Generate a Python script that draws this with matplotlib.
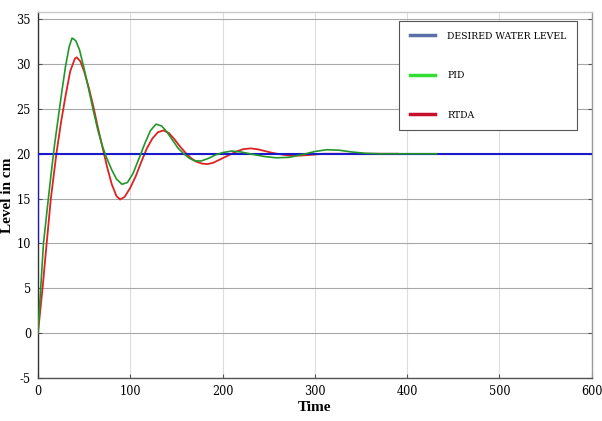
import numpy as np
import matplotlib.pyplot as plt
from matplotlib.lines import Line2D
from matplotlib.font_manager import FontProperties

# Water level response of the tank: set point, PID and RTDA controllers
setpoint_t = [0, 0, 600]
setpoint_level = [10, 20, 20]

pid_t = [0, 3, 6, 10, 14, 18, 22, 26, 30, 34, 37, 41, 45, 50, 55, 60, 65, 70, 75,
         80, 85, 91, 97, 103, 110, 116, 122, 128, 134, 140, 146, 152, 158, 164, 170,
         177, 185, 193, 201, 210, 220, 232, 245, 258, 272, 286, 300, 313, 326, 340,
         355, 370, 400, 432]
pid_level = [0, 5, 10, 13.8, 17.5, 21, 24, 27, 29.8, 32, 32.9, 32.6, 31.6, 29.5,
             27.2, 24.8, 22.6, 20.8, 19.4, 18.2, 17.2, 16.6, 16.8, 17.8, 19.6, 21.2,
             22.6, 23.3, 23.1, 22.4, 21.5, 20.6, 20.0, 19.5, 19.2, 19.2, 19.5, 19.9,
             20.15, 20.3, 20.2, 19.95, 19.7, 19.55, 19.6, 19.9, 20.25, 20.45, 20.4,
             20.2, 20.05, 20.0, 20.0, 20.0]

rtda_t = [0, 5, 9, 14, 20, 25, 30, 35, 40, 42, 46, 50, 55, 60, 65, 70, 75, 80, 85,
          89, 94, 100, 106, 112, 118, 124, 130, 136, 142, 148, 154, 160, 166, 172,
          178, 184, 190, 198, 206, 214, 222, 230, 238, 246, 254, 262, 272, 285, 298,
          310, 330, 390]
rtda_level = [0, 5, 9.5, 15, 20, 23.5, 26.5, 29.2, 30.6, 30.75, 30.3, 29.2, 27.4,
              25.3, 22.9, 20.7, 18.5, 16.6, 15.3, 14.9, 15.2, 16.2, 17.5, 19.1, 20.6,
              21.7, 22.4, 22.6, 22.3, 21.6, 20.8, 20.1, 19.5, 19.1, 18.9, 18.85, 19.0,
              19.4, 19.8, 20.2, 20.5, 20.6, 20.5, 20.3, 20.1, 19.95, 19.8, 19.8, 19.9,
              20.0, 20.0, 20.0]

x_ticks = [0, 100, 200, 300, 400, 500, 600]
y_ticks = [-5, 0, 5, 10, 15, 20, 25, 30, 35]
legend_labels = ['DESIRED WATER LEVEL', 'PID', 'RTDA']

plt.rcParams['font.family'] = 'Liberation Serif'
plt.rcParams['axes.unicode_minus'] = False

tick_font = FontProperties(family='DejaVu Serif', stretch='condensed', size=9)
legend_font = FontProperties(family='DejaVu Serif', stretch='condensed', size=7.5)

fig = plt.figure(figsize=(6.02, 4.21), dpi=100)
ax = fig.add_axes([0.063, 0.102, 0.92, 0.8695])

ax.plot(rtda_t, rtda_level, color='#dd2222', linewidth=1.3, zorder=3)
ax.plot(setpoint_t, setpoint_level, color='#1a1acc', linewidth=1.5, zorder=4)
ax.plot(pid_t, pid_level, color='#22962a', linewidth=1.2, zorder=5)

ax.set_xlim(0, 600)
ax.set_ylim(-5, 35.8)
ax.set_xticks(x_ticks)
ax.set_yticks(y_ticks)
ax.tick_params(axis='both', direction='in', length=3, color='#555555', pad=5)
ax.tick_params(axis='y', right=True)
for lbl in ax.get_xticklabels() + ax.get_yticklabels():
    lbl.set_fontproperties(tick_font)

ax.grid(axis='y', color='#a8a8a8', linewidth=0.8)
ax.grid(axis='x', color='#dddddd', linewidth=0.8)
ax.set_axisbelow(True)

for side, col in [('left', '#333333'), ('bottom', '#555555'),
                  ('top', '#c8c8c8'), ('right', '#999999')]:
    ax.spines[side].set_color(col)
    ax.spines[side].set_linewidth(1.0)

ax.set_xlabel('Time', fontsize=11, fontweight='bold', labelpad=2)
ax.set_ylabel('Level in cm', fontsize=11, fontweight='bold', labelpad=2)

handles = [Line2D([], [], color='#5b6fa8', linewidth=2.5),
           Line2D([], [], color='#33dd33', linewidth=2.5),
           Line2D([], [], color='#c8102e', linewidth=2.5)]
leg = fig.legend(handles, legend_labels, loc='upper right',
                 bbox_to_anchor=(577 / 602, 1 - 21 / 421), borderaxespad=0,
                 prop=legend_font, frameon=True, fancybox=False,
                 handlelength=2.4, handletextpad=1.2, labelspacing=2.9,
                 borderpad=1.0, framealpha=1)
leg.get_frame().set_edgecolor('#555555')
leg.get_frame().set_linewidth(0.8)

fig.savefig('out.png', dpi=100)
